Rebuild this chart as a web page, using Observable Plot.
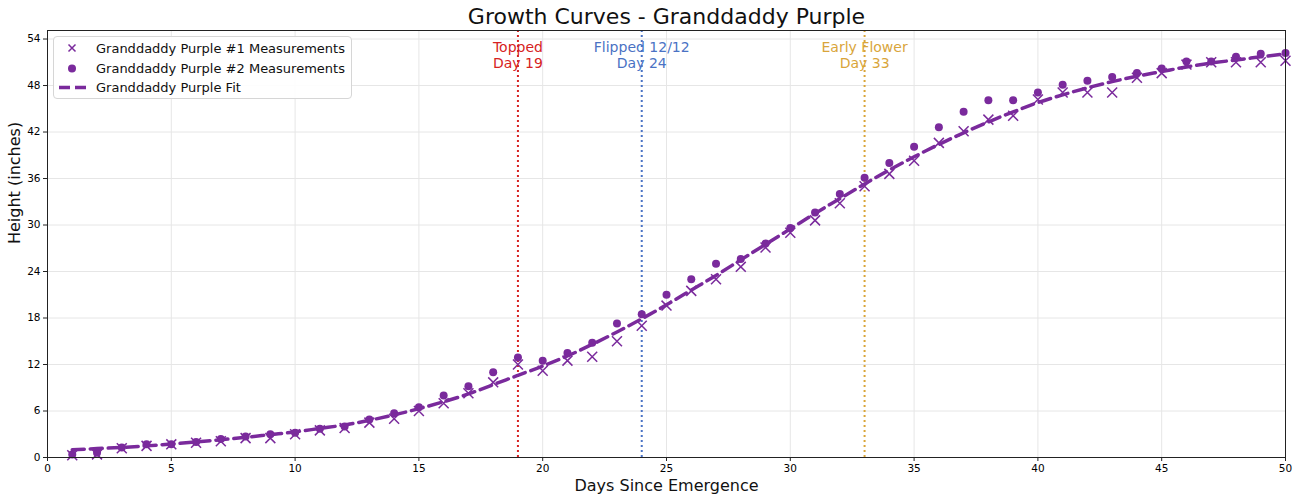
<!DOCTYPE html>
<html>
<head>
<meta charset="utf-8">
<script src="https://cdn.jsdelivr.net/npm/d3@7"></script>
<script src="https://cdn.jsdelivr.net/npm/@observablehq/plot@0.6"></script>
<style>
  body { margin: 0; background: #fff; font-family: "DejaVu Sans", sans-serif; }
  #wrap { position: relative; width: 1299px; }
  #title { height: 29px; line-height: 34px; text-align: center; font-size: 22px; color: #111; padding-left: 34px; }
  #legend {
    position: absolute; left: 53px; top: 36px; width: 297px; height: 61px;
    background: rgba(255,255,255,0.9); border: 1px solid #d6d6d6; border-radius: 4px;
    font-size: 13px; color: #111;
  }
  #legend .row { position: absolute; left: 0; height: 19px; display: flex; align-items: center; }
  #legend svg { width: 40px; height: 19px; margin-left: 2px; }
  #legend span { margin-left: 0px; }
</style>
</head>
<body>
<div id="wrap">
  <div id="title">Growth Curves - Granddaddy Purple</div>
  <div id="chart"></div>
  <div id="legend"></div>
</div>
<script>
// Days since emergence
const days = d3.range(1, 51);

// Plant #1 heights (inches), days 1–50
const plant1 = [
  0.3, 0.4, 1.2, 1.5, 1.7, 1.9, 2.1, 2.5, 2.5, 3.0,
  3.5, 3.8, 4.5, 5.0, 6.0, 7.0, 8.3, 9.7, 12.0, 11.2,
  12.5, 13.0, 15.0, 17.0, 19.6, 21.5, 23.0, 24.6, 27.1, 29.0,
  30.6, 32.8, 35.0, 36.6, 38.3, 40.6, 42.1, 43.6, 44.1, 46.2,
  47.1, 47.1, 47.1, 49.0, 49.6, 50.7, 51.0, 51.0, 51.0, 51.2
];

// Plant #2 heights (inches), days 1–50
const plant2 = [
  0.4, 0.6, 1.3, 1.7, 1.7, 2.0, 2.4, 2.7, 3.0, 3.2,
  3.7, 4.0, 4.9, 5.7, 6.5, 8.0, 9.2, 11.0, 12.9, 12.5,
  13.5, 14.8, 17.3, 18.5, 21.0, 23.0, 25.0, 25.6, 27.6, 29.6,
  31.6, 34.0, 36.1, 38.0, 40.1, 42.6, 44.6, 46.1, 46.1, 47.1,
  48.1, 48.6, 49.1, 49.6, 50.2, 51.1, 51.1, 51.7, 52.1, 52.2
];

// Fitted growth curve (inches), days 1–50
const fitCurve = [
  1.0, 1.15, 1.3, 1.5, 1.75, 2.0, 2.3, 2.6, 2.95, 3.3,
  3.75, 4.2, 4.8, 5.5, 6.3, 7.2, 8.2, 9.4, 10.6, 11.8,
  13.1, 14.6, 16.2, 17.9, 19.7, 21.6, 23.5, 25.5, 27.5, 29.5,
  31.5, 33.4, 35.3, 37.1, 38.8, 40.4, 41.9, 43.3, 44.6, 45.8,
  46.8, 47.7, 48.5, 49.2, 49.8, 50.4, 50.9, 51.3, 51.7, 52.1
];

// Grow-room events
const eventDays = [19, 24, 33];
const eventNames = ["Topped", "Flipped 12/12", "Early Flower"];
const eventColors = ["#d62222", "#4a72c4", "#d9a53a"];

const xTicks = d3.range(0, 51, 5);
const yTicks = d3.range(0, 55, 6);

const purple = "#7a2a9c";

const m1 = days.map((d, i) => ({ day: d, h: plant1[i] }));
const m2 = days.map((d, i) => ({ day: d, h: plant2[i] }));
const fit = days.map((d, i) => ({ day: d, h: fitCurve[i] }));
const events = eventDays.map((d, i) => ({ day: d, name: eventNames[i], color: eventColors[i] }));

const chart = Plot.plot({
  width: 1299,
  height: 471,
  marginLeft: 47,
  marginRight: 14,
  marginTop: 1,
  marginBottom: 43,
  style: { fontFamily: "DejaVu Sans, sans-serif", background: "#fff", overflow: "visible" },
  x: { domain: [0, 50] },
  y: { domain: [0, 55.1] },
  marks: [
    Plot.gridX(xTicks, { stroke: "#e6e6e6", strokeOpacity: 1 }),
    Plot.gridY(yTicks, { stroke: "#e6e6e6", strokeOpacity: 1 }),
    Plot.axisX(xTicks, { tickSize: 4, tickPadding: 3, fontSize: 10.5, label: null, stroke: "#222" }),
    Plot.axisY(yTicks, { tickSize: 4, tickPadding: 3, fontSize: 10.5, label: null, stroke: "#222" }),
    Plot.text(["Days Since Emergence"], { frameAnchor: "bottom", dy: 33, fontSize: 16, fill: "#111" }),
    Plot.text(["Height (inches)"], { frameAnchor: "left", dx: -33, rotate: -90, fontSize: 16, fill: "#111" }),
    Plot.ruleX(events, { x: "day", stroke: "color", strokeWidth: 2, strokeDasharray: "2,3" }),
    Plot.text(events, {
      x: "day", text: d => `${d.name}\nDay ${d.day}`, fill: "color",
      frameAnchor: "top", lineAnchor: "top", dy: 11, fontSize: 14, lineHeight: 1.1
    }),
    Plot.dot(m1, { x: "day", y: "h", symbol: "times", r: 4.6, stroke: purple, strokeWidth: 1.5 }),
    Plot.dot(m2, { x: "day", y: "h", symbol: "circle", r: 4, fill: purple, stroke: "none" }),
    Plot.line(fit, { x: "day", y: "h", stroke: purple, strokeWidth: 3.5, strokeDasharray: "12,6", curve: "monotone-x" }),
    Plot.frame({ stroke: "#222", strokeWidth: 1 })
  ]
});
document.getElementById("chart").appendChild(chart);

// Legend entries
const legendItems = [
  { label: "Granddaddy Purple #1 Measurements", kind: "times" },
  { label: "Granddaddy Purple #2 Measurements", kind: "circle" },
  { label: "Granddaddy Purple Fit", kind: "line" }
];
const legend = document.getElementById("legend");
legendItems.forEach((item, i) => {
  const row = document.createElement("div");
  row.className = "row";
  row.style.top = (2 + i * 19.5) + "px";
  let icon = "";
  if (item.kind === "times") {
    icon = `<svg viewBox="0 0 40 19"><path d="M12.5,5.5 L19.5,12.5 M19.5,5.5 L12.5,12.5" stroke="${purple}" stroke-width="1.5"/></svg>`;
  } else if (item.kind === "circle") {
    icon = `<svg viewBox="0 0 40 19"><circle cx="16" cy="9.5" r="4" fill="${purple}"/></svg>`;
  } else {
    icon = `<svg viewBox="0 0 40 19"><line x1="3" x2="31" y1="9.5" y2="9.5" stroke="${purple}" stroke-width="3.5" stroke-dasharray="11,5"/></svg>`;
  }
  row.innerHTML = icon + `<span>${item.label}</span>`;
  legend.appendChild(row);
});
</script>
</body>
</html>
